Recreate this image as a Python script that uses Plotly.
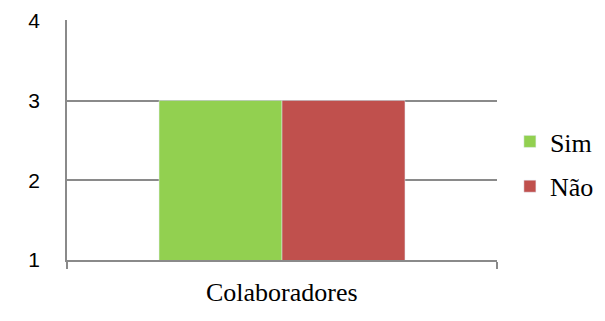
import plotly.graph_objects as go

# Survey answers per group
categories = ["Colaboradores"]
series_names = ["Sim", "Não"]
sim_values = [3]
nao_values = [3]
y_ticks = [1, 2, 3, 4]

W, H = 605, 321
ML, MR, MT, MB = 67, 108, 20, 61
plot_w = W - ML - MR
plot_h = H - MT - MB

GRID = "#8a8a8a"
SERIF = "Liberation Serif"
SANS = "Liberation Sans"

fig = go.Figure()
fig.add_trace(go.Bar(x=categories, y=sim_values, name=series_names[0],
                     marker_color="#92D050", legendgroup="sim"))
fig.add_trace(go.Bar(x=categories, y=nao_values, name=series_names[1],
                     marker_color="#C0504D", legendgroup="nao"))

# category name under the axis
fig.add_annotation(x=categories[0], xref="x", y=-32 / plot_h, yref="paper",
                   yanchor="middle", showarrow=False, text=categories[0],
                   font=dict(family=SERIF, size=26, color="black"))

fig.update_layout(
    width=W, height=H,
    margin=dict(l=ML, r=MR, t=MT, b=MB, autoexpand=False),
    plot_bgcolor="white",
    barmode="group", bargap=0.428, bargroupgap=0,
    legend=dict(x=1.03, xanchor="left", y=0.40, yanchor="middle",
                tracegroupgap=8,
                font=dict(family=SERIF, size=26, color="black")),
    xaxis=dict(showline=True, linecolor=GRID, linewidth=1.5,
               tickvals=[-0.5, 0.5], showticklabels=False,
               ticks="outside", ticklen=7, tickcolor=GRID, tickwidth=1.5),
    yaxis=dict(range=[1, 4.01], tickvals=y_ticks, showline=True,
               linecolor=GRID, linewidth=1.5, showgrid=True,
               gridcolor=GRID, gridwidth=1.5, zeroline=False,
               ticks="outside", ticklen=21, tickcolor="rgba(0,0,0,0)",
               tickfont=dict(family=SANS, size=21, color="black")),
)

fig.write_html("out.html")
